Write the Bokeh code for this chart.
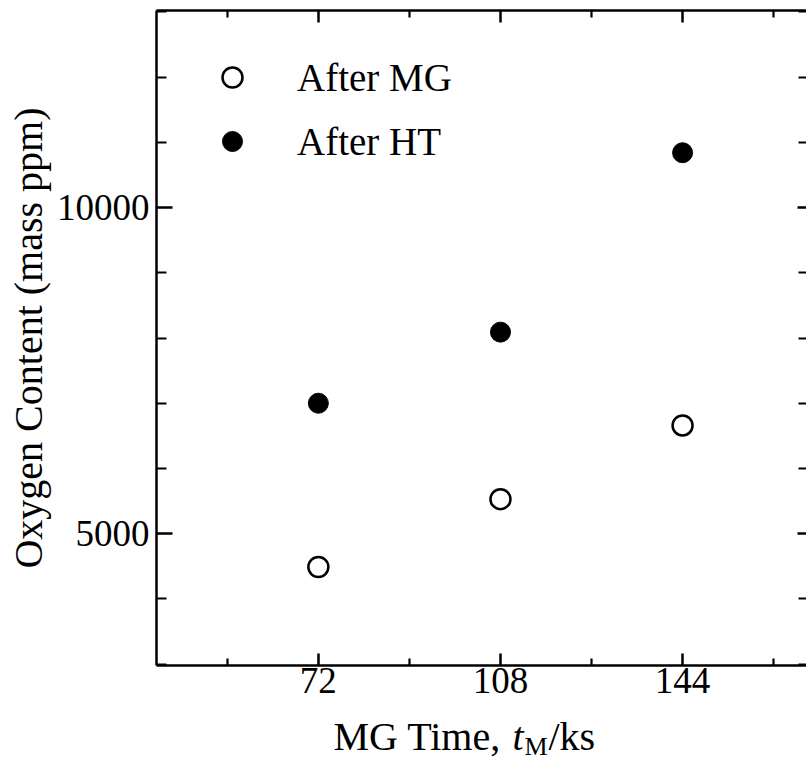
from bokeh.plotting import figure
from bokeh.models import (FixedTicker, LinearAxis, Range1d, Legend, LegendItem, Grid,
                          CustomLabelingPolicy)
from bokeh.layouts import column
from bokeh.core.properties import value
from bokeh.embed import file_html
from bokeh.resources import INLINE

# ---- data ----
mg_time = [72, 108, 144]                 # MG time, ks
after_mg = [4490, 5530, 6660]            # oxygen content after MG, mass ppm
after_ht = [7000, 8090, 10840]           # oxygen content after HT, mass ppm
x_major = [72, 108, 144]
x_minor = [54, 90, 126, 162]
y_major = [5000, 10000]
y_minor = [3000, 4000, 6000, 7000, 8000, 9000, 11000, 12000, 13000]
series_labels = ["After MG", "After HT"]
y_title = "Oxygen Content (mass ppm)"
x_title_parts = ["MG Time,", "t", "M", "/ks"]

FONT = "Liberation Serif"

p = figure(width=806, height=715, output_backend="svg", toolbar_location=None,
           x_range=Range1d(40, 168.5), y_range=Range1d(2980, 13020),
           x_axis_location=None, y_axis_location=None,
           min_border_left=156, min_border_right=0, min_border_top=10,
           min_border_bottom=50)
p.outline_line_color = None
p.background_fill_color = "white"
p.border_fill_color = "white"
p.center = [c for c in p.center if not isinstance(c, Grid)]


def make_axis(ticker, major_in, minor_in, labels=True, line=True):
    ax = LinearAxis(ticker=ticker)
    ax.major_tick_in = major_in
    ax.major_tick_out = 0
    ax.minor_tick_in = minor_in
    ax.minor_tick_out = 0
    ax.axis_line_width = 2.5 if line else 0
    ax.axis_line_color = "black" if line else None
    ax.major_tick_line_width = 2.5
    ax.minor_tick_line_width = 2.2
    ax.major_tick_line_color = "black"
    ax.minor_tick_line_color = "black"
    if labels:
        ax.major_label_text_font = FONT
        ax.major_label_text_font_size = "37px"
        ax.major_label_text_color = "black"
    else:
        ax.major_label_policy = CustomLabelingPolicy(
            code="for (const i of indices) { if (false) { yield i } }")
        ax.major_label_text_font_size = "0px"
        ax.major_label_standoff = 0
        ax.axis_label_standoff = 0
    return ax


bottom = make_axis(FixedTicker(ticks=x_major, minor_ticks=x_minor), 12, 7)
bottom.major_label_standoff = 2
top = make_axis(FixedTicker(ticks=x_major, minor_ticks=x_minor), 12, 7, labels=False)
left = make_axis(FixedTicker(ticks=y_major, minor_ticks=y_minor), 16, 10)
left.major_label_standoff = 7
left.axis_label = y_title
left.axis_label_text_font = FONT
left.axis_label_text_font_size = "40px"
left.axis_label_text_font_style = "normal"
left.axis_label_text_color = "black"
left.axis_label_standoff = 3
right = make_axis(FixedTicker(ticks=y_major, minor_ticks=y_minor), 9, 8,
                  labels=False, line=False)

p.add_layout(bottom, "below")
p.add_layout(left, "left")
p.add_layout(top, "above")
p.add_layout(right, "right")

r_mg = p.scatter(mg_time, after_mg, size=20, marker="circle",
                 fill_color="white", line_color="black", line_width=2.5)
r_ht = p.scatter(mg_time, after_ht, size=20, marker="circle",
                 fill_color="black", line_color="black", line_width=1)

legend = Legend(items=[LegendItem(label=series_labels[0], renderers=[r_mg]),
                       LegendItem(label=series_labels[1], renderers=[r_ht])],
                location=(51, 499), glyph_width=50, glyph_height=50,
                spacing=14, padding=0, margin=0, label_standoff=40,
                label_text_font=FONT, label_text_font_size="39px",
                label_text_color="black",
                border_line_color=None, background_fill_alpha=0)
p.add_layout(legend)

# ---- x-axis title strip (italic t with subscript M); x in page pixels ----
t = figure(width=806, height=49, output_backend="svg", toolbar_location=None,
           x_range=Range1d(156, 806), y_range=Range1d(0, 49),
           x_axis_location=None, y_axis_location=None,
           min_border_left=156, min_border_right=0, min_border_top=0,
           min_border_bottom=0)
t.outline_line_color = None
t.background_fill_color = "white"
t.border_fill_color = "white"
t.center = [c for c in t.center if not isinstance(c, Grid)]

common = dict(text_font=value(FONT), text_color="black", text_align="left",
              text_baseline="alphabetic")
t.text(x=[333], y=[28], text=[x_title_parts[0]], text_font_size="40px",
       text_font_style="normal", **common)
t.text(x=[512], y=[28], text=[x_title_parts[1]], text_font_size="40px",
       text_font_style="italic", **common)
t.text(x=[524], y=[18], text=[x_title_parts[2]], text_font_size="26px",
       text_font_style="normal", **common)
t.text(x=[548], y=[28], text=[x_title_parts[3]], text_font_size="40px",
       text_font_style="normal", **common)

layout = column(p, t, spacing=0)
open("out.html", "w").write(file_html(layout, INLINE))
